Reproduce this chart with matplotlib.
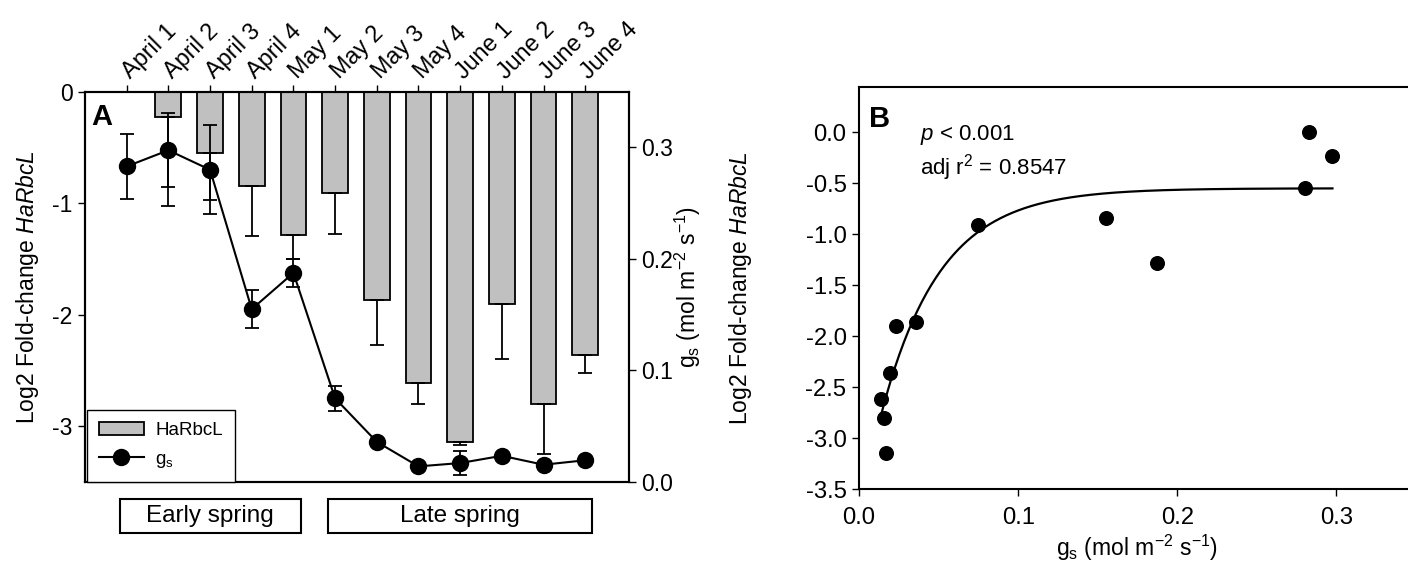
import numpy as np
import matplotlib
matplotlib.use("Agg")
import matplotlib.pyplot as plt
import matplotlib.transforms as mtransforms
from matplotlib.patches import Rectangle, Patch
from matplotlib.lines import Line2D

plt.rcParams["font.family"] = ["Liberation Sans", "DejaVu Sans"]
plt.rcParams["mathtext.fontset"] = "custom"
plt.rcParams["mathtext.rm"] = "Liberation Sans"
plt.rcParams["mathtext.it"] = "Liberation Sans:italic"
plt.rcParams["mathtext.bf"] = "Liberation Sans:bold"
plt.rcParams["axes.unicode_minus"] = False

# ---- data -------------------------------------------------------------
sampling_dates = ["April 1", "April 2", "April 3", "April 4",
                  "May 1", "May 2", "May 3", "May 4",
                  "June 1", "June 2", "June 3", "June 4"]
rbcl_log2fc = [0.0, -0.23, -0.55, -0.844, -1.284, -0.91,
               -1.865, -2.615, -3.145, -1.90, -2.80, -2.365]
rbcl_se = [0.0, 0.795, 0.424, 0.446, 0.216, 0.365,
           0.409, 0.19, 0.02, 0.50, 0.45, 0.16]
gs_mean = [0.283, 0.2975, 0.280, 0.155, 0.1875, 0.075,
           0.036, 0.014, 0.017, 0.0235, 0.0155, 0.0195]
gs_se = [0.029, 0.033, 0.040, 0.017, 0.0124, 0.0115,
         0.0, 0.0, 0.011, 0.0, 0.0, 0.0]

season_names = ["Early spring", "Late spring"]
season_first = [0, 5]
season_last = [4, 11]

# exponential rise to maximum: y = y0 + a * (1 - exp(-b * gs))
fit_y0, fit_a, fit_b = -3.78, 3.23, 27.0
fit_p_label = "$\\it{p}$ < 0.001"
fit_adj_r2 = 0.8547

# ---- style ------------------------------------------------------------
TICK_FS = 16.5
B_TICK_FS = 17.2
DATE_FS = 16.8
LW = 1.5
bar_grey = "#c0c0c0"
gs_label = r"g$_\mathregular{s}$ (mol m$^{\mathregular{-2}}$ s$^{\mathregular{-1}}$)"
fc_label = r"Log2 Fold-change $\it{HaRbcL}$"

fig = plt.figure(figsize=(14.08, 5.83), dpi=100)

# ---- panel A: bars + stomatal conductance ----------------------------
ax = fig.add_axes([0.06037, 0.17324, 0.38636, 0.66947])
x = np.arange(len(sampling_dates))
fc = np.array(rbcl_log2fc)
fc_err = np.array(rbcl_se)

ax.bar(x, fc, width=0.62, color=bar_grey, edgecolor="black", linewidth=1.3, zorder=2)
has_err = fc_err > 0
ax.errorbar(x[has_err], fc[has_err],
            yerr=[fc_err[has_err], np.zeros(has_err.sum())],
            fmt="none", ecolor="black", elinewidth=1.3, capsize=4.8,
            capthick=1.3, zorder=3)

ax.set_xlim(-1, 12.05)
ax.set_ylim(-3.5, 0)
ax.set_yticks([0, -1, -2, -3])
ax.set_yticklabels(["0", "-1", "-2", "-3"])
ax.set_xticks(x)
ax.set_xticklabels(sampling_dates, rotation=45, ha="left", va="baseline",
                   rotation_mode="anchor", fontsize=DATE_FS)
ax.tick_params(axis="x", top=True, bottom=False, labeltop=True,
               labelbottom=False, direction="out", length=5, width=1.0,
               pad=3.5)
ax.tick_params(axis="y", direction="out", length=5, width=1.0,
               labelsize=TICK_FS, pad=4)
date_shift = mtransforms.ScaledTranslation(4 / 100, 0, fig.dpi_scale_trans)
for lbl in ax.get_xticklabels():
    lbl.set_transform(lbl.get_transform() + date_shift)
for s in ax.spines.values():
    s.set_linewidth(LW)

ax.set_ylabel(fc_label, fontsize=TICK_FS)
ax.yaxis.set_label_coords(-0.105, 0.5)
ax.yaxis.label.set_va("center")

ax.text(0.012, 0.972, "A", transform=ax.transAxes, fontsize=21,
        fontweight="bold", ha="left", va="top", zorder=5)

ax2 = ax.twinx()
gs = np.array(gs_mean)
gs_err = np.array(gs_se)
has_gs_err = gs_err > 0
ax2.errorbar(x[has_gs_err], gs[has_gs_err], yerr=gs_err[has_gs_err],
             fmt="none", ecolor="black", elinewidth=1.3, capsize=4.8,
             capthick=1.3, zorder=3)
ax2.plot(x, gs, "-o", color="black", lw=1.5, markersize=11.5, zorder=4)
ax2.set_ylim(0, 0.35)
ax2.set_yticks([0.0, 0.1, 0.2, 0.3])
ax2.set_yticklabels(["0.0", "0.1", "0.2", "0.3"])
ax2.tick_params(axis="y", direction="out", length=5, width=1.0,
                labelsize=TICK_FS, pad=4)
for s in ax2.spines.values():
    s.set_linewidth(LW)
ax2.set_ylabel(gs_label, fontsize=TICK_FS)
ax2.yaxis.set_label_coords(1.108, 0.5)
ax2.yaxis.label.set_va("center")

handles = [Patch(facecolor=bar_grey, edgecolor="black", linewidth=1.3),
           Line2D([0], [0], color="black", lw=1.5, marker="o", markersize=11.5)]
leg = ax2.legend(handles, ["HaRbcL", r"g$_\mathregular{s}$"], loc="lower left",
                 bbox_to_anchor=(0.003, 0.0), borderaxespad=0.0, fontsize=13.5,
                 fancybox=False, edgecolor="black", framealpha=1.0,
                 handlelength=2.4, handleheight=0.75, borderpad=0.65,
                 labelspacing=0.6, handletextpad=0.6)
leg.get_frame().set_linewidth(1.0)

# season boxes under panel A
box_tr = mtransforms.blended_transform_factory(ax.transData, ax.transAxes)
for name, first, last in zip(season_names, season_first, season_last):
    x0 = first - 0.17
    x1 = last + 0.17
    rect = Rectangle((x0, -0.131), x1 - x0, 0.087, transform=box_tr,
                     facecolor="white", edgecolor="black", linewidth=1.5,
                     clip_on=False)
    ax.add_patch(rect)
    ax.text((x0 + x1) / 2, -0.0875, name, transform=box_tr, fontsize=17.5,
            ha="center", va="center", clip_on=False)

# ---- panel B: fold-change vs conductance -------------------------------
bx = fig.add_axes([0.61009, 0.16072, 0.39560, 0.68954])
bx.plot(gs, fc, "o", color="black", markersize=9.8, zorder=3)
gs_fit = np.linspace(gs.min(), gs.max(), 300)
fc_fit = fit_y0 + fit_a * (1.0 - np.exp(-fit_b * gs_fit))
bx.plot(gs_fit, fc_fit, color="black", lw=1.6, zorder=2)

bx.set_xlim(0, 0.35)
bx.set_ylim(-3.5, 0.44)
bx.set_xticks([0.0, 0.1, 0.2, 0.3])
bx.set_xticklabels(["0.0", "0.1", "0.2", "0.3"])
yt = [0.0, -0.5, -1.0, -1.5, -2.0, -2.5, -3.0, -3.5]
bx.set_yticks(yt)
bx.set_yticklabels([f"{v:.1f}" for v in yt])
bx.tick_params(direction="out", length=5, width=1.0, labelsize=B_TICK_FS, pad=4)
bx.tick_params(axis="x", pad=8)
for s in bx.spines.values():
    s.set_linewidth(LW)

bx.set_ylabel(fc_label, fontsize=TICK_FS)
bx.yaxis.set_label_coords(-0.2136, 0.5)
bx.yaxis.label.set_va("center")
bx.set_xlabel(gs_label, fontsize=TICK_FS)
bx.xaxis.set_label_coords(0.5, -0.146)
bx.xaxis.label.set_va("center")

bx.text(0.018, 0.955, "B", transform=bx.transAxes, fontsize=21,
        fontweight="bold", ha="left", va="top")
bx.text(0.11, 0.882, fit_p_label, transform=bx.transAxes, fontsize=16,
        ha="left", va="center")
bx.text(0.11, 0.80, f"adj r$^\\mathregular{{2}}$ = {fit_adj_r2:.4f}",
        transform=bx.transAxes, fontsize=16, ha="left", va="center")

fig.savefig("out.png", dpi=100)
